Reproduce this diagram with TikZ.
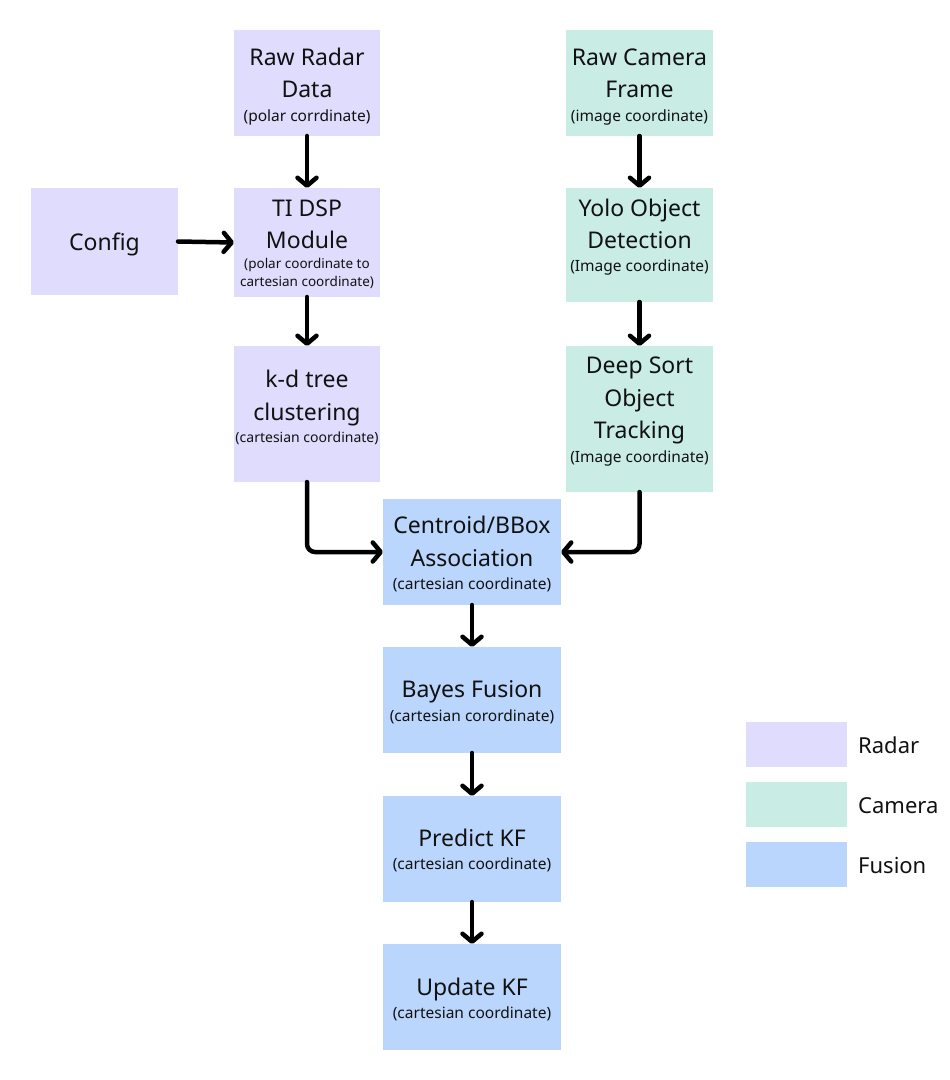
\documentclass[tikz,border=0pt]{standalone}
\usepackage{fontspec}
\setmainfont{Noto Sans}
\usetikzlibrary{arrows.meta}
\definecolor{radarc}{RGB}{224,220,253}
\definecolor{camc}{RGB}{201,237,228}
\definecolor{fusc}{RGB}{187,214,253}
\definecolor{ink}{RGB}{17,17,17}
\begin{document}
\begin{tikzpicture}[x=1pt,y=-1pt,
  box/.style={rectangle,inner sep=0pt,outer sep=0pt,anchor=north west,draw=none},
  rbox/.style={box,fill=radarc},
  cbox/.style={box,fill=camc},
  fbox/.style={box,fill=fusc},
  big/.style={anchor=base,inner sep=0pt,text=ink,font=\fontsize{23}{28}\selectfont},
  sml/.style={anchor=base,inner sep=0pt,text=ink,font=\fontsize{15.5}{18}\selectfont},
  smk/.style={anchor=base,inner sep=0pt,text=ink,font=\fontsize{14}{17}\selectfont},
  smt/.style={anchor=base,inner sep=0pt,text=ink,font=\fontsize{13.5}{16}\selectfont},
  leg/.style={anchor=base west,inner sep=0pt,text=ink,font=\fontsize{22}{26}\selectfont},
  arr/.style={draw=black,line width=4.5pt,line cap=round,line join=round,
    -{Straight Barb[length=8pt,width=19pt,line cap=round,line join=round]}}
]
\useasboundingbox[fill=white] (0,0) rectangle (950,1080);

% boxes
\node[rbox,minimum width=146pt,minimum height=106pt] (rr) at (234,30) {};
\node[rbox,minimum width=147pt,minimum height=107pt] (cfg) at (31,188) {};
\node[rbox,minimum width=146pt,minimum height=109pt] (ti) at (234,188) {};
\node[rbox,minimum width=146pt,minimum height=136pt] (kd) at (234,346) {};
\node[cbox,minimum width=147pt,minimum height=106pt] (rc) at (566,30) {};
\node[cbox,minimum width=147pt,minimum height=114pt] (yolo) at (566,188) {};
\node[cbox,minimum width=147pt,minimum height=146pt] (ds) at (566,346) {};
\node[fbox,minimum width=178pt,minimum height=106pt] (cent) at (383,499) {};
\node[fbox,minimum width=178pt,minimum height=106pt] (bay) at (383,647) {};
\node[fbox,minimum width=178pt,minimum height=106pt] (pred) at (383,796) {};
\node[fbox,minimum width=178pt,minimum height=106pt] (upd) at (383,944) {};
% legend
\node[rbox,minimum width=101pt,minimum height=45pt] (lr) at (746,722) {};
\node[cbox,minimum width=101pt,minimum height=45pt] (lc) at (746,782) {};
\node[fbox,minimum width=101pt,minimum height=45pt] (lf) at (746,842) {};

% texts
\node[big] (rr1) at (307,65) {Raw Radar};
\node[big] (rr2) at (307,97.5) {Data};
\node[sml] (rr3) at (307,121) {(polar corrdinate)};

\node[big] (cfg1) at (104.5,250.5) {Config};

\node[big] (ti1) at (307,216.5) {TI DSP};
\node[big] (ti2) at (307,248.5) {Module};
\node[smt] (ti3) at (307,268.5) {(polar coordinate to};
\node[smt] (ti4) at (307,286) {cartesian coordinate)};

\node[big] (kd1) at (307,387.5) {k-d tree};
\node[big] (kd2) at (307,420) {clustering};
\node[smk] (kd3) at (307,442) {(cartesian coordinate)};

\node[big] (rc1) at (639.5,65) {Raw Camera};
\node[big] (rc2) at (639.5,97.5) {Frame};
\node[sml] (rc3) at (639.5,121) {(image coordinate)};

\node[big] (yo1) at (639.5,216) {Yolo Object};
\node[big] (yo2) at (639.5,248.5) {Detection};
\node[sml] (yo3) at (639.5,271.5) {(Image coordinate)};

\node[big] (ds1) at (639.5,373.5) {Deep Sort};
\node[big] (ds2) at (639.5,406) {Object};
\node[big] (ds3) at (639.5,438.5) {Tracking};
\node[sml] (ds4) at (639.5,462) {(Image coordinate)};

\node[big] (ce1) at (472,533.5) {Centroid/BBox};
\node[big] (ce2) at (472,566) {Association};
\node[sml] (ce3) at (472,589) {(cartesian coordinate)};

\node[big] (ba1) at (472,697.5) {Bayes Fusion};
\node[sml] (ba2) at (472,721.5) {(cartesian corordinate)};

\node[big] (pr1) at (472,846) {Predict KF};
\node[sml] (pr2) at (472,869.5) {(cartesian coordinate)};

\node[big] (up1) at (472,995) {Update KF};
\node[sml] (up2) at (472,1018) {(cartesian coordinate)};

\node[leg] (lrt) at (858,753) {Radar};
\node[leg] (lct) at (858,813) {Camera};
\node[leg] (lft) at (858,873) {Fusion};

% connectors
\draw[arr] (rr.south) -- (ti.north);
\draw[arr] (cfg.east) -- (ti.west);
\draw[arr] (ti.south) -- (kd.north);
\draw[arr] (rc.south) -- (yolo.north);
\draw[arr] (yolo.south) -- (ds.north);
\draw[arr,rounded corners=8pt] (kd.south) |- (cent.west);
\draw[arr,rounded corners=8pt] (ds.south) |- (cent.east);
\draw[arr] (cent.south) -- (bay.north);
\draw[arr] (bay.south) -- (pred.north);
\draw[arr] (pred.south) -- (upd.north);
\end{tikzpicture}
\end{document}
